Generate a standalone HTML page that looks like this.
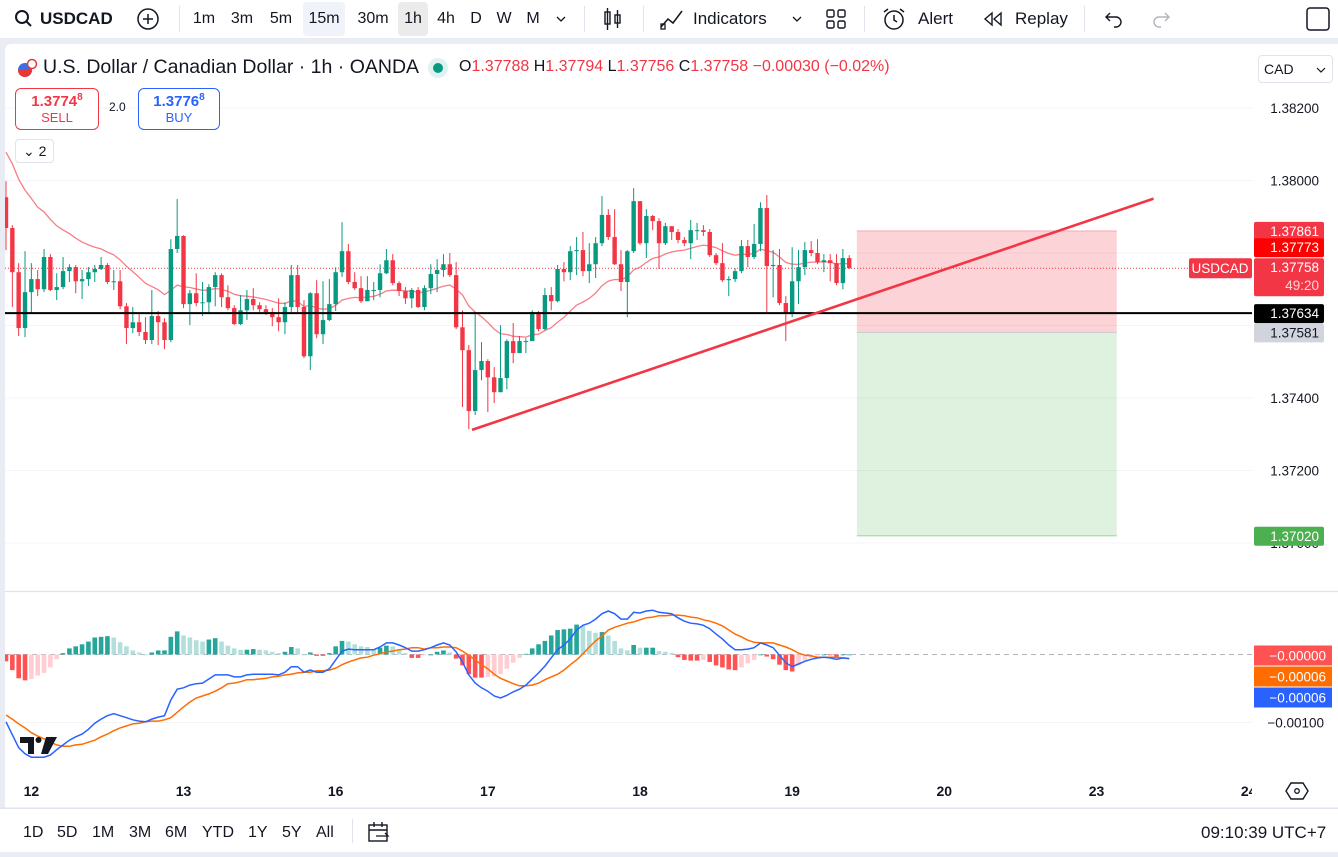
<!DOCTYPE html>
<html><head><meta charset="utf-8">
<style>
*{box-sizing:border-box;margin:0;padding:0}
body{width:1338px;height:852px;overflow:hidden;background:#e9ecf2;font-family:"Liberation Sans",sans-serif;color:#131722;position:relative}
.abs{position:absolute}
#toolbar{left:0;top:0;width:1338px;height:38px;background:#fff}
.tb{position:absolute;top:0;height:38px;line-height:37px;font-size:17px;color:#131722}
.tf{position:absolute;top:2px;height:34px;line-height:34px;font-size:16px;text-align:center;border-radius:4px}
.sep{position:absolute;top:6px;width:1px;height:26px;background:#e0e3eb}
#chartbg{left:5px;top:44px;width:1333px;height:764px;background:#fff;border-top-left-radius:6px}
#bottom{left:0;top:808px;width:1338px;height:44px;background:#fff;border-top:1px solid #e0e3eb}
.bb{position:absolute;top:0;height:44px;line-height:48px;font-size:16px;color:#131722}
svg text{font-family:"Liberation Sans",sans-serif}
</style></head>
<body>
<div id="chartbg" class="abs"></div>

<div id="toolbar" class="abs">
  <div class="tb" style="left:14px">
    <svg width="20" height="20" style="position:absolute;top:9px;left:0"><circle cx="8" cy="8" r="6" fill="none" stroke="#131722" stroke-width="2"/><line x1="12.5" y1="12.5" x2="17" y2="17" stroke="#131722" stroke-width="2"/></svg>
    <span style="position:absolute;left:26px;font-weight:bold;white-space:nowrap">USDCAD</span>
  </div>
  <svg class="abs" style="left:136px;top:7px" width="24" height="24"><circle cx="12" cy="12" r="10" fill="none" stroke="#131722" stroke-width="1.5"/><path d="M12 7v10M7 12h10" stroke="#131722" stroke-width="1.5"/></svg>
  <div class="sep" style="left:179px"></div>
  <div class="tf" style="left:189px;width:30px">1m</div>
  <div class="tf" style="left:227px;width:30px">3m</div>
  <div class="tf" style="left:266px;width:30px">5m</div>
  <div class="tf" style="left:303px;width:42px;background:#f0f3fa">15m</div>
  <div class="tf" style="left:352px;width:42px">30m</div>
  <div class="tf" style="left:398px;width:30px;background:#ebebeb">1h</div>
  <div class="tf" style="left:433px;width:26px">4h</div>
  <div class="tf" style="left:466px;width:20px">D</div>
  <div class="tf" style="left:494px;width:20px">W</div>
  <div class="tf" style="left:523px;width:20px">M</div>
  <svg class="abs" style="left:555px;top:14px" width="12" height="10"><path d="M2 3l4 4 4-4" fill="none" stroke="#131722" stroke-width="1.3"/></svg>
  <div class="sep" style="left:584px"></div>
  <svg class="abs" style="left:602px;top:6px" width="22" height="26"><rect x="3" y="6" width="5" height="12" fill="none" stroke="#131722" stroke-width="1.4"/><line x1="5.5" y1="2" x2="5.5" y2="24" stroke="#131722" stroke-width="1.4"/><rect x="13" y="9" width="5" height="8" fill="none" stroke="#131722" stroke-width="1.4"/><line x1="15.5" y1="4" x2="15.5" y2="22" stroke="#131722" stroke-width="1.4"/></svg>
  <div class="sep" style="left:643px"></div>
  <svg class="abs" style="left:659px;top:7px" width="26" height="24"><path d="M2 20l7-8 5 4 9-12" fill="none" stroke="#131722" stroke-width="1.5"/><rect x="2" y="17" width="4" height="5" fill="none" stroke="#131722" stroke-width="1.3"/></svg>
  <div class="tb" style="left:693px">Indicators</div>
  <svg class="abs" style="left:791px;top:14px" width="12" height="10"><path d="M2 3l4 4 4-4" fill="none" stroke="#131722" stroke-width="1.3"/></svg>
  <svg class="abs" style="left:825px;top:8px" width="22" height="22"><rect x="2" y="2" width="7" height="7" rx="1.5" fill="none" stroke="#131722" stroke-width="1.4"/><rect x="13" y="2" width="7" height="7" rx="1.5" fill="none" stroke="#131722" stroke-width="1.4"/><rect x="2" y="13" width="7" height="7" rx="1.5" fill="none" stroke="#131722" stroke-width="1.4"/><rect x="13" y="13" width="7" height="7" rx="1.5" fill="none" stroke="#131722" stroke-width="1.4"/></svg>
  <div class="sep" style="left:864px"></div>
  <svg class="abs" style="left:881px;top:6px" width="26" height="26"><circle cx="13" cy="14" r="9" fill="none" stroke="#131722" stroke-width="1.5"/><path d="M13 9v5l3 2" fill="none" stroke="#131722" stroke-width="1.5"/><path d="M3 6l4-3M23 6l-4-3" stroke="#131722" stroke-width="1.5"/></svg>
  <div class="tb" style="left:918px">Alert</div>
  <svg class="abs" style="left:982px;top:10px" width="22" height="18"><path d="M10 3L3 9l7 6zM19 3l-7 6 7 6z" fill="none" stroke="#131722" stroke-width="1.4"/></svg>
  <div class="tb" style="left:1015px">Replay</div>
  <div class="sep" style="left:1084px"></div>
  <svg class="abs" style="left:1103px;top:9px" width="22" height="20"><path d="M7 4L3 8l4 4M3 8h10a5 5 0 010 10h-2" fill="none" stroke="#131722" stroke-width="1.4"/></svg>
  <svg class="abs" style="left:1150px;top:9px" width="22" height="20"><path d="M15 4l4 4-4 4M19 8H9a5 5 0 000 10h2" fill="none" stroke="#b2b5be" stroke-width="1.4"/></svg>
  <svg class="abs" style="left:1305px;top:6px" width="26" height="26"><rect x="2" y="2" width="22" height="22" rx="3" fill="none" stroke="#131722" stroke-width="1.5"/></svg>
</div>

<svg id="chart" class="abs" style="left:0;top:0" width="1338" height="852"></svg>

<!-- legend -->
<div class="abs" style="left:17px;top:56px;height:24px;white-space:nowrap">
  <svg width="22" height="22" style="position:absolute;left:0;top:1px"><circle cx="8" cy="13" r="7" fill="#3c6ee8"/><path d="M1 13a7 7 0 0014 0z" fill="#e53935"/><circle cx="15" cy="7" r="4.5" fill="#fff" stroke="#e53935" stroke-width="1.5"/></svg>
  <span style="position:absolute;left:26px;top:0;font-size:19.5px;color:#131722">U.S. Dollar / Canadian Dollar · 1h · OANDA</span>
  <svg width="22" height="22" style="position:absolute;left:410px;top:1px"><circle cx="11" cy="11" r="10" fill="#e0f2ef"/><circle cx="11" cy="11" r="5" fill="#089981"/></svg>
  <span style="position:absolute;left:442px;top:2px;font-size:16px;color:#f23645"><span style="color:#131722">O</span>1.37788 <span style="color:#131722">H</span>1.37794 <span style="color:#131722">L</span>1.37756 <span style="color:#131722">C</span>1.37758 −0.00030 (−0.02%)</span>
</div>
<div class="abs" style="left:15px;top:88px;width:84px;height:42px;border:1px solid #f23645;border-radius:6px;text-align:center;color:#f23645;background:#fff">
  <div style="font-size:15px;font-weight:bold;margin-top:3px">1.3774<sup style="font-size:10px">8</sup></div><div style="font-size:13px;margin-top:0">SELL</div></div>
<div class="abs" style="left:109px;top:100px;font-size:12px">2.0</div>
<div class="abs" style="left:138px;top:88px;width:82px;height:42px;border:1px solid #2962ff;border-radius:6px;text-align:center;color:#2962ff;background:#fff">
  <div style="font-size:15px;font-weight:bold;margin-top:3px">1.3776<sup style="font-size:10px">8</sup></div><div style="font-size:13px;margin-top:0">BUY</div></div>
<div class="abs" style="left:15px;top:139px;width:39px;height:24px;border:1px solid #e0e3eb;border-radius:4px;background:#fff;font-size:14px;line-height:22px;padding-left:7px">⌄ 2</div>
<div class="abs" style="left:1258px;top:55px;width:75px;height:28px;border:1px solid #e0e3eb;border-radius:4px;background:#fff;font-size:14px;line-height:26px;padding-left:5px">CAD<svg width="10" height="8" style="position:absolute;right:6px;top:10px"><path d="M1 2l4 4 4-4" fill="none" stroke="#131722" stroke-width="1.2"/></svg></div>

<div id="bottom" class="abs">
  <div class="bb" style="left:23px">1D</div>
  <div class="bb" style="left:57px">5D</div>
  <div class="bb" style="left:92px">1M</div>
  <div class="bb" style="left:129px">3M</div>
  <div class="bb" style="left:165px">6M</div>
  <div class="bb" style="left:202px">YTD</div>
  <div class="bb" style="left:248px">1Y</div>
  <div class="bb" style="left:282px">5Y</div>
  <div class="bb" style="left:316px">All</div>
  <div style="position:absolute;left:352px;top:10px;width:1px;height:24px;background:#e0e3eb"></div>
  <svg class="abs" style="left:367px;top:12px" width="24" height="22"><rect x="2" y="4" width="18" height="16" fill="none" stroke="#131722" stroke-width="1.4"/><line x1="2" y1="9" x2="20" y2="9" stroke="#131722" stroke-width="1.4"/><path d="M7 1v5M15 1v5" stroke="#131722" stroke-width="1.4"/><path d="M9 15h12l-3-3" fill="none" stroke="#131722" stroke-width="1.3"/></svg>
  <div class="bb" style="left:1201px;font-size:17px">09:10:39 UTC+7</div>
</div>

<script>
// Price data in points (1e-5) above 1.37000
const firstOpenPts = 954;
const closePts=[869,747,593,692,728,700,789,698,706,750,761,722,728,747,756,767,720,722,653,593,609,582,560,626,609,560,811,847,659,689,662,664,706,739,678,648,604,642,673,656,645,637,623,609,651,739,651,515,689,576,615,659,747,805,720,703,667,698,698,744,780,717,695,675,698,651,703,742,753,769,739,595,532,364,477,502,457,416,455,557,524,557,557,637,590,684,667,756,747,805,808,750,769,827,905,844,769,720,805,943,827,902,888,827,874,858,836,827,863,863,858,794,772,725,728,750,819,789,825,924,764,767,662,634,722,761,808,800,775,780,772,717,786,758];
const highPts=[998,877,772,805,772,753,811,797,744,789,769,767,753,761,767,789,772,753,753,662,651,637,623,698,640,620,838,949,849,698,744,720,714,747,744,711,656,684,698,703,664,656,648,675,664,767,767,670,692,725,722,728,761,885,825,747,736,736,720,769,811,797,722,706,703,706,711,769,783,797,800,775,642,546,634,554,507,485,601,562,607,571,565,642,640,703,706,767,775,819,844,858,827,844,957,921,921,808,808,979,943,921,905,896,883,869,866,844,891,883,877,866,800,827,736,758,836,836,880,940,960,808,811,681,816,808,830,833,838,797,797,797,811,794];
const lowPts=[808,651,571,568,634,681,692,695,670,700,720,689,673,709,720,753,714,698,645,549,579,571,549,549,546,535,554,800,648,601,653,626,631,653,651,642,601,601,615,642,631,629,598,584,576,637,637,510,477,565,549,612,640,734,714,698,662,681,670,678,742,711,681,659,648,648,642,687,692,734,734,590,375,314,353,449,361,386,416,424,496,540,524,631,584,587,642,664,722,725,739,736,717,731,819,836,767,695,623,800,822,786,863,756,822,836,827,819,783,836,847,789,767,720,681,720,744,761,783,805,637,678,656,557,623,659,739,791,769,747,722,711,700,756];
const maSeedPts = 1100;
const maPeriod = 20;
const askPrice = 1.37773;
// MACD in 1e-5 units
const macdVals=[-99,-118,-137,-146,-151,-151,-151,-148,-140,-133,-126,-121,-117,-110,-101,-95,-90,-87,-90,-93,-96,-98,-99,-95,-92,-90,-67,-51,-49,-45,-43,-42,-36,-30,-30,-30,-33,-33,-30,-29,-29,-29,-29,-30,-26,-18,-18,-26,-23,-26,-26,-21,-8,5,8,7,7,7,7,11,17,17,14,10,5,5,7,10,14,17,14,4,-11,-30,-42,-49,-54,-61,-64,-60,-55,-51,-45,-36,-27,-17,-5,7,14,23,36,43,46,52,60,64,60,52,52,62,61,64,65,62,61,60,54,49,46,45,43,38,30,23,14,7,7,8,10,17,14,10,-1,-12,-18,-14,-10,-7,-5,-4,-5,-7,-5,-6];
const signalVals=[-89,-95,-102,-108,-115,-120,-124,-129,-133,-135,-135,-133,-132,-129,-126,-121,-117,-112,-108,-105,-102,-101,-99,-98,-98,-96,-93,-85,-77,-70,-64,-61,-58,-54,-49,-43,-42,-40,-37,-37,-36,-35,-33,-32,-30,-29,-27,-26,-26,-24,-24,-23,-20,-15,-11,-8,-5,-4,-1,1,4,5,7,8,10,10,8,10,10,11,11,10,5,-1,-8,-15,-21,-29,-35,-39,-43,-46,-46,-45,-42,-37,-33,-29,-23,-15,-8,1,11,20,27,36,40,43,46,48,51,54,55,57,57,58,58,57,55,54,51,49,46,42,36,30,26,21,18,17,17,17,14,11,7,2,-1,-2,-4,-4,-4,-4,-5,-6];
const priceTicks=[1.382,1.380,1.378,1.376,1.374,1.372,1.370];
const dayLabels=["12","13","16","17","18","19","20","23","24"];
const dayIndex=[4,28,52,76,100,124,148,172,196];
// drawings
const hLinePrice=1.37634;
const trendStart={i:73.5,p:1.37312};
const trendEnd={i:181,p:1.37950};
const posEntry=1.37581, posStop=1.37861, posTarget=1.37020;
const posStartIdx=134.2, posEndIdx=175.2;

const NS="http://www.w3.org/2000/svg";
const svg=document.getElementById('chart');
const px=p=>1.37+p/1e5;
const X=i=>6+i*6.34;
const Y=p=>108+(1.382-p)/0.002*72.5;
const MY=v=>654.5-v*0.68;
const PLOT_R=1252;
function el(tag,attrs,parent){const e=document.createElementNS(NS,tag);for(const k in attrs)e.setAttribute(k,attrs[k]);(parent||svg).appendChild(e);return e;}
function txt(x,y,s,attrs,parent){const t=el('text',Object.assign({x:x,y:y},attrs),parent);t.textContent=s;return t;}
const fmtSigned=v=>(v<=0?'−':'')+Math.abs(v/1e5).toFixed(5);

const defs=el('defs',{});
const cp=el('clipPath',{id:'mainclip'},defs);el('rect',{x:5,y:44,width:PLOT_R-5,height:546},cp);
const cp2=el('clipPath',{id:'macdclip'},defs);el('rect',{x:5,y:592,width:PLOT_R-5,height:177},cp2);

priceTicks.forEach(p=>{const g=el('line',{x1:5,x2:PLOT_R,y1:Y(p),y2:Y(p),stroke:'#f3f4f7','stroke-width':1});

});
el('line',{x1:5,x2:PLOT_R,y1:MY(-100),y2:MY(-100),stroke:'#f3f4f7'});
el('line',{x1:5,x2:1338,y1:591.5,y2:591.5,stroke:'#e0e3eb','stroke-width':1.2});

const main=el('g',{'clip-path':'url(#mainclip)'});



const pos=el('g',{},main);


el('rect',{x:X(posStartIdx),y:Y(posStop),width:X(posEndIdx)-X(posStartIdx),height:Y(posEntry)-Y(posStop),fill:'rgba(242,54,69,0.22)'},pos);
el('rect',{x:X(posStartIdx),y:Y(posEntry),width:X(posEndIdx)-X(posStartIdx),height:Y(posTarget)-Y(posEntry),fill:'rgba(76,175,80,0.18)'},pos);
el('line',{x1:X(posStartIdx),x2:X(posEndIdx),y1:Y(posStop),y2:Y(posStop),stroke:'rgba(242,54,69,0.35)'},pos);
el('line',{x1:X(posStartIdx),x2:X(posEndIdx),y1:Y(posTarget),y2:Y(posTarget),stroke:'rgba(76,175,80,0.35)','stroke-width':1.5},pos);
el('line',{x1:X(posStartIdx),x2:X(posEndIdx),y1:Y(posEntry),y2:Y(posEntry),stroke:'#c7cad3'},pos);

const lastClose=px(closePts[closePts.length-1]);
const pl=el('line',{x1:5,x2:PLOT_R,y1:Y(lastClose),y2:Y(lastClose),stroke:'#f23645','stroke-width':1,'stroke-dasharray':'1 2'},main);



let ma=px(maSeedPts);const a=2/(maPeriod+1);let d='';
closePts.forEach((c,i)=>{ma=ma+a*(px(c)-ma);d+=(i?'L':'M')+X(i).toFixed(1)+' '+Y(ma).toFixed(1);});
const maPath=el('path',{d:d,fill:'none',stroke:'#f7525f','stroke-width':1.3,opacity:0.75},main);



let prev=firstOpenPts;
closePts.forEach((c,i)=>{
  const o=px(prev),cl=px(c);prev=c;
  const hi=Math.max(px(highPts[i]),o,cl),lo=Math.min(px(lowPts[i]),o,cl);
  const up=cl>=o;const col=up?'#089981':'#f23645';
  const g=el('g',{},main);
  
  
  el('line',{x1:X(i),x2:X(i),y1:Y(hi),y2:Y(lo),stroke:col,'stroke-width':1},g);
  const top=Y(Math.max(o,cl)),h=Math.max(1,Y(Math.min(o,cl))-top);
  el('rect',{x:X(i)-2.2,y:top,width:4.4,height:h,fill:col},g);
});

const hl=el('line',{x1:5,x2:PLOT_R,y1:Y(hLinePrice),y2:Y(hLinePrice),stroke:'#000','stroke-width':2},main);


const tl=el('line',{x1:X(trendStart.i),y1:Y(trendStart.p),x2:X(trendEnd.i),y2:Y(trendEnd.p),stroke:'#f23645','stroke-width':2.6},main);



// price axis tick labels (skip those covered by tag labels)
const covered=[Y(posStop),Y(lastClose),Y(hLinePrice),Y(posEntry)];
priceTicks.forEach(p=>{
  if(covered.some(c=>Math.abs(c-Y(p))<22) && Math.abs(Y(p)-Y(posTarget))>3) return;
  const t=txt(1319,Y(p)+5,p.toFixed(5),{'font-size':13.5,fill:'#131722','text-anchor':'end'});
  
  });
function tag(y,h,fill,lines,name,color){
  const g=el('g',{});
  
  
  el('rect',{x:1254,y:y,width:70,height:h,rx:2,fill:fill},g);
  lines.forEach((s,k)=>txt(1319,y+14+k*18,s,{'font-size':13.5,fill:(color||'#fff'),'text-anchor':'end',opacity:k?0.8:1},g));
}
tag(Y(posStop)-9,19,'#f23645',[posStop.toFixed(5)],'stop-loss-label');
tag(Y(posTarget)-9,19,'#4caf50',[posTarget.toFixed(5)],'take-profit-label');
const lastTop=Y(lastClose)-10;
tag(lastTop,38,'#f23645',[lastClose.toFixed(5),'49:20'],'last-price-label');
tag(Math.min(Y(askPrice)-9,lastTop-20),19,'#ff0000',[askPrice.toFixed(5)],'ask-price-label');
tag(Y(hLinePrice)-9,19,'#000',[hLinePrice.toFixed(5)],'horizontal-line-label');
tag(Y(posEntry)-9,19,'#d1d4dc',[posEntry.toFixed(5)],'entry-price-label','#131722');
const sg=el('g',{});


el('rect',{x:1189,y:Y(lastClose)-10,width:63,height:20,rx:2,fill:'#f23645'},sg);
txt(1220,Y(lastClose)+5,'USDCAD',{'font-size':13.5,fill:'#fff','text-anchor':'middle'},sg);

// MACD pane
const mp=el('g',{'clip-path':'url(#macdclip)'});


el('line',{x1:5,x2:PLOT_R,y1:MY(0),y2:MY(0),stroke:'#b2b5be','stroke-dasharray':'5 4'},mp);
let prevH=null;
macdVals.forEach((m,i)=>{
  const h=m-signalVals[i];
  let col;
  if(h>=0) col=(prevH===null||h>=prevH)?'#26a69a':'#b2dfdb';
  else col=(prevH===null||h<=prevH)?'#ff5252':'#ffcdd2';
  prevH=h;
  const r=el('rect',{x:X(i)-2.3,y:Math.min(MY(0),MY(h)),width:4.6,height:Math.max(0.8,Math.abs(MY(h)-MY(0))),fill:col},mp);
  
  
});
function line(vals,col,name){let d='';vals.forEach((v,i)=>d+=(i?'L':'M')+X(i).toFixed(1)+' '+MY(v).toFixed(1));
 const p=el('path',{d:d,fill:'none',stroke:col,'stroke-width':1.5},mp);
 
 }
line(signalVals,'#ff6d00','macd-signal-line');
line(macdVals,'#2962ff','macd-line');
const logo=el('g',{});


el('path',{d:'M20 737h14v17h-6v-11h-8z',fill:'#131722'},logo);
el('circle',{cx:38.5,cy:740,r:3,fill:'#131722'},logo);
el('path',{d:'M46 737h11l-9 17h-7z',fill:'#131722'},logo);

const lastM=macdVals[macdVals.length-1],lastS=signalVals[signalVals.length-1];
const lastHist=lastM-lastS;
const y0=MY(lastHist)-9;
[[lastHist,'#ff5252','histogram-value-label'],[lastS,'#ff6d00','signal-value-label'],[lastM,'#2962ff','macd-value-label']].forEach((a,k)=>{
  const g=el('g',{});
  
  
  const y=y0+21*k;
  el('rect',{x:1254,y:y,width:78,height:20,fill:a[1]},g);
  txt(1326,y+15,fmtSigned(a[0]),{'font-size':13.5,fill:'#fff','text-anchor':'end'},g);
});
const mt=txt(1324,MY(-100)+5,'−0.00100',{'font-size':13.5,fill:'#131722','text-anchor':'end'});



// time axis
el('line',{x1:0,x2:1338,y1:808,y2:808,stroke:'#e0e3eb'});
const ta=el('g',{});


const tclip=el('clipPath',{id:'tclip'},defs);el('rect',{x:0,y:770,width:1252,height:38},tclip);
const tg=el('g',{'clip-path':'url(#tclip)'},ta);
dayLabels.forEach((s,k)=>{const t=txt(X(dayIndex[k]),796,s,{'font-size':14,fill:'#131722','text-anchor':'middle','font-weight':'bold'},tg);
 
 });
const gear=el('g',{});


el('path',{d:'M1291 783h12l5 8-5 8h-12l-5-8z',fill:'none',stroke:'#131722','stroke-width':1.4},gear);
el('circle',{cx:1297,cy:791,r:2.3,fill:'none',stroke:'#131722','stroke-width':1.3},gear);
</script>
</body></html>
